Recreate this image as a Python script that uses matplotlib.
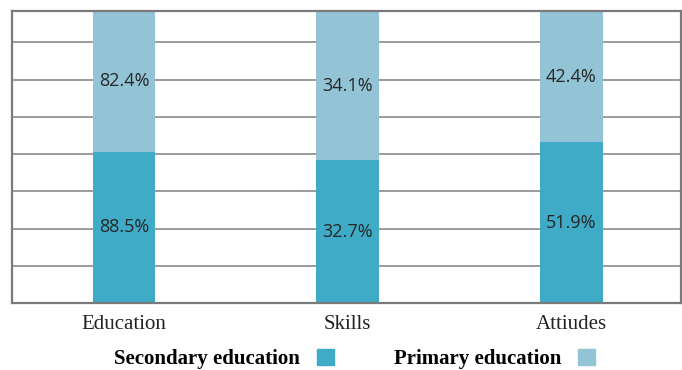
import numpy as np
import matplotlib.pyplot as plt
from matplotlib.patches import Patch

# Survey shares by category
categories = ["Education", "Skills", "Attiudes"]
secondary = [88.5, 32.7, 51.9]
primary = [82.4, 34.1, 42.4]

sec = np.array(secondary)
prim = np.array(primary)
total = sec + prim
sec_share = sec / total * 100
prim_share = prim / total * 100

dark = "#3FABC7"
light = "#92C4D6"

fig = plt.figure(figsize=(6.82, 3.70), dpi=100)
ax = fig.add_axes([0.0176, 0.181, 0.981, 0.789])

x = np.arange(len(categories))
w = 0.28
ax.bar(x, sec_share, width=w, color=dark, zorder=2)
ax.bar(x, prim_share, width=w, bottom=sec_share, color=light, zorder=2)

for i in range(len(categories)):
    ax.text(x[i], sec_share[i] / 2, f"{secondary[i]}%", ha="center", va="center",
            fontsize=13, color="#262626", family="Open Sans", zorder=3)
    ax.text(x[i], sec_share[i] + prim_share[i] / 2, f"{primary[i]}%", ha="center",
            va="center", fontsize=13, color="#262626", family="Open Sans", zorder=3)

ax.set_xlim(-0.5, 2.49)
ax.set_ylim(0, 100)
ax.set_yticks(np.arange(0, 100, 12.75))
ax.yaxis.grid(True, color="#8a8a8a", linewidth=1.2, zorder=1)
ax.tick_params(axis="y", left=False, labelleft=False)
ax.tick_params(axis="x", bottom=False, pad=5)
ax.set_xticks(x)
ax.set_xticklabels(categories, family="Liberation Serif", fontsize=15, color="#222222")
for s in ax.spines.values():
    s.set_color("#7a7a7a")
    s.set_linewidth(1.6)
    s.set_zorder(4)

handles = [Patch(color=dark, label="Secondary education"),
           Patch(color=light, label="Primary education")]
fig.legend(handles=handles, loc="center", bbox_to_anchor=(0.52, 0.03), ncol=2,
           frameon=False, markerfirst=False, handlelength=0.8, handleheight=0.8,
           handletextpad=0.8, columnspacing=2.9,
           prop={"family": "Liberation Serif", "weight": "bold", "size": 15})

fig.savefig("out.png", dpi=100)
